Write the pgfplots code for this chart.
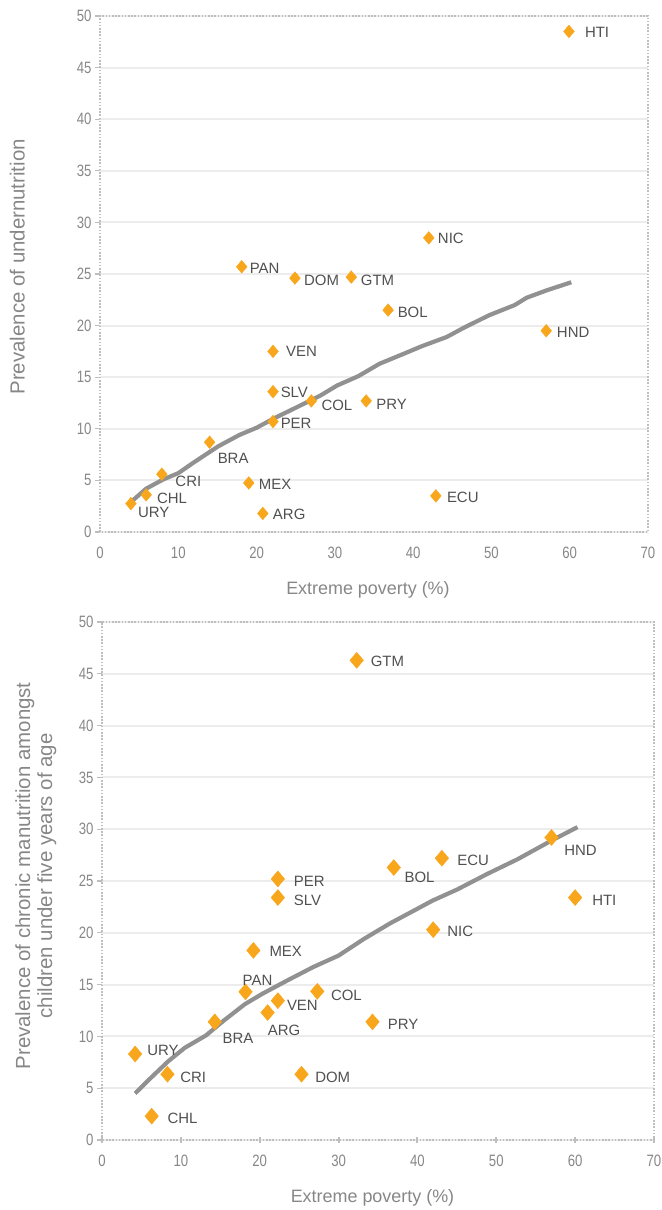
\documentclass[border=0pt]{standalone}
\usepackage{pgfplots}
\pgfplotsset{compat=1.18}
\usepackage{pgfplotstable}
\usepackage{fontspec}
\setmainfont{Liberation Sans}
\newfontfamily\narrowfont[FakeStretch=0.8]{Liberation Sans}

\definecolor{markorange}{RGB}{248,166,28}
\definecolor{trendgray}{RGB}{145,145,145}
\definecolor{gridgray}{RGB}{236,236,236}
\definecolor{bordergray}{RGB}{190,190,190}
\definecolor{tickgray}{RGB}{135,135,135}
\definecolor{labelgray}{RGB}{80,80,80}

% undernutrition vs extreme poverty
\pgfplotstableread{
x     y     label dx   dy
59.9  48.5  HTI   16   -1
42.0  28.5  NIC   9    0
32.1  24.7  GTM   9.5  -3
18.1  25.7  PAN   8    -1.5
24.9  24.6  DOM   9    -2
36.8  21.5  BOL   9.5  -2
57.0  19.5  HND   10.6 -1.6
22.1  17.5  VEN   13   0
22.1  13.6  SLV   7.6  -1
27.0  12.7  COL   10   -4
34.0  12.7  PRY   10   -3
22.1  10.7  PER   7.6  -2
14.0  8.7   BRA   8    -16.7
7.9   5.6   CRI   13.5 -7
19.0  4.75  MEX   10   -1
5.9   3.6   CHL   10.7 -3.3
42.9  3.5   ECU   11   -1.3
3.95  2.75  URY   7    -9.3
20.8  1.8   ARG   10   -1
}\undernut

\pgfplotstableread{
x     y
3.95  2.9
5.9   4.2
8.1   5.1
10.0  5.7
11.9  6.7
15.1  8.3
17.8  9.4
20.0  10.1
22.2  11.0
24.9  12.0
28.1  13.2
30.3  14.2
33.0  15.1
35.7  16.3
38.9  17.3
41.1  18.0
44.3  18.9
46.5  19.8
49.7  21.0
53.0  22.0
54.5  22.7
57.0  23.4
60.2  24.2
}\undernuttrend

% chronic malnutrition under five vs extreme poverty
\pgfplotstableread{
x     y     label dx   dy
32.3  46.3  GTM   14   -0.7
57.0  29.2  HND   12.7 -12.7
43.1  27.2  ECU   15.3 -2.3
37.0  26.3  BOL   10.6 -10
22.3  25.2  PER   16   -2.3
22.3  23.4  SLV   16   -2.3
60.0  23.4  HTI   17   -2.3
42.0  20.3  NIC   14   -1.7
19.2  18.3  MEX   16   -0.7
18.2  14.3  PAN   -3   12
27.3  14.35 COL   13.6 -3.7
22.3  13.45 VEN   9    -5
21.0  12.3  ARG   0    -18
14.3  11.4  BRA   7.6  -16.3
34.3  11.4  PRY   15.3 -2.3
4.2   8.3   URY   12   4
8.3   6.35  CRI   12.7 -2.7
25.3  6.35  DOM   13.6 -2.7
6.3   2.3   CHL   15.7 -2.3
}\chronic

\pgfplotstableread{
x     y
4.2   4.5
6.2   6.0
8.4   7.6
10.5  8.9
13.2  10.1
15.4  11.5
18.1  13.1
20.3  14.1
23.5  15.4
26.8  16.7
30.0  17.8
33.2  19.4
36.5  20.9
39.7  22.2
41.9  23.1
45.1  24.2
48.9  25.7
52.7  27.1
57.0  28.9
60.3  30.2
}\chronictrend

\pgfplotsset{
  panel/.style={
    anchor=south west,
    scale only axis,
    xmin=0, xmax=70, ymin=0, ymax=50,
    xtick={0,10,...,70}, ytick={0,5,...,50},
    ymajorgrids,
    major grid style={draw=gridgray, line width=2bp},
    axis line style={draw=bordergray, line width=1.6bp, dash pattern=on 1.6bp off 1.6bp},
    xtick pos=bottom, ytick pos=left,
    tick style={draw=bordergray, line width=1.2bp},
    /pgf/number format/assume math mode=true,
    tick label style={font=\narrowfont\fontsize{16.5}{17}\selectfont, text=tickgray},
    label style={font=\fontsize{18}{20}\selectfont, text=tickgray},
    xlabel={Extreme poverty (\%)},
    clip=false,
  },
  trend/.style={draw=trendgray, line width=4.2bp, line join=round, no marks},
  pts/.style={
    only marks, mark=square*, color=markorange,
    point meta=explicit symbolic,
    nodes near coords,
    visualization depends on={\thisrow{dx} \as \dx},
    visualization depends on={\thisrow{dy} \as \dy},
    every node near coord/.append style={anchor=west, inner sep=0pt, xshift=\dx, yshift=\dy,
      font=\fontsize{15}{16}\selectfont, text=labelgray},
  },
}

\begin{document}
\begin{tikzpicture}
\useasboundingbox (0,0) rectangle (662bp,1210bp);

\begin{axis}[panel,
  at={(100bp,678bp)}, width=548bp, height=516bp,
  major tick length=5bp,
  xtick style={draw=none},
  ytick align=outside,
  xticklabel style={yshift=-12bp},
  ylabel={Prevalence of undernutrition},
  ylabel style={at={(axis description cs:-0.151,0.514)}, anchor=center, font=\fontsize{20.5}{22}\selectfont},
  xlabel style={at={(axis description cs:0.489,-0.112)}, anchor=center},
  ]
\addplot[trend] table[x=x, y=y] {\undernuttrend};
\addplot[pts, mark options={fill=markorange, draw=none, mark size=3.8bp, yscale=1.18, rotate=45}]
  table[x=x, y=y, meta=label] {\undernut};
\end{axis}

\begin{axis}[panel,
  at={(102bp,70bp)}, width=552bp, height=518bp,
  major tick length=5bp,
  xtick style={draw=bordergray, line width=2bp},
  xtick align=center, ytick align=outside,
  xticklabel style={yshift=-9bp},
  ylabel={Prevalence of chronic manutrition amongst\\children under five years of age},
  ylabel style={at={(axis description cs:-0.12,0.51)}, anchor=center, align=center, font=\fontsize{20.5}{22}\selectfont},
  xlabel style={at={(axis description cs:0.49,-0.112)}, anchor=center},
  ]
\addplot[trend] table[x=x, y=y] {\chronictrend};
\addplot[pts, mark options={fill=markorange, draw=none, mark size=4.8bp, yscale=1.18, rotate=45}]
  table[x=x, y=y, meta=label] {\chronic};
\end{axis}
\end{tikzpicture}
\end{document}
